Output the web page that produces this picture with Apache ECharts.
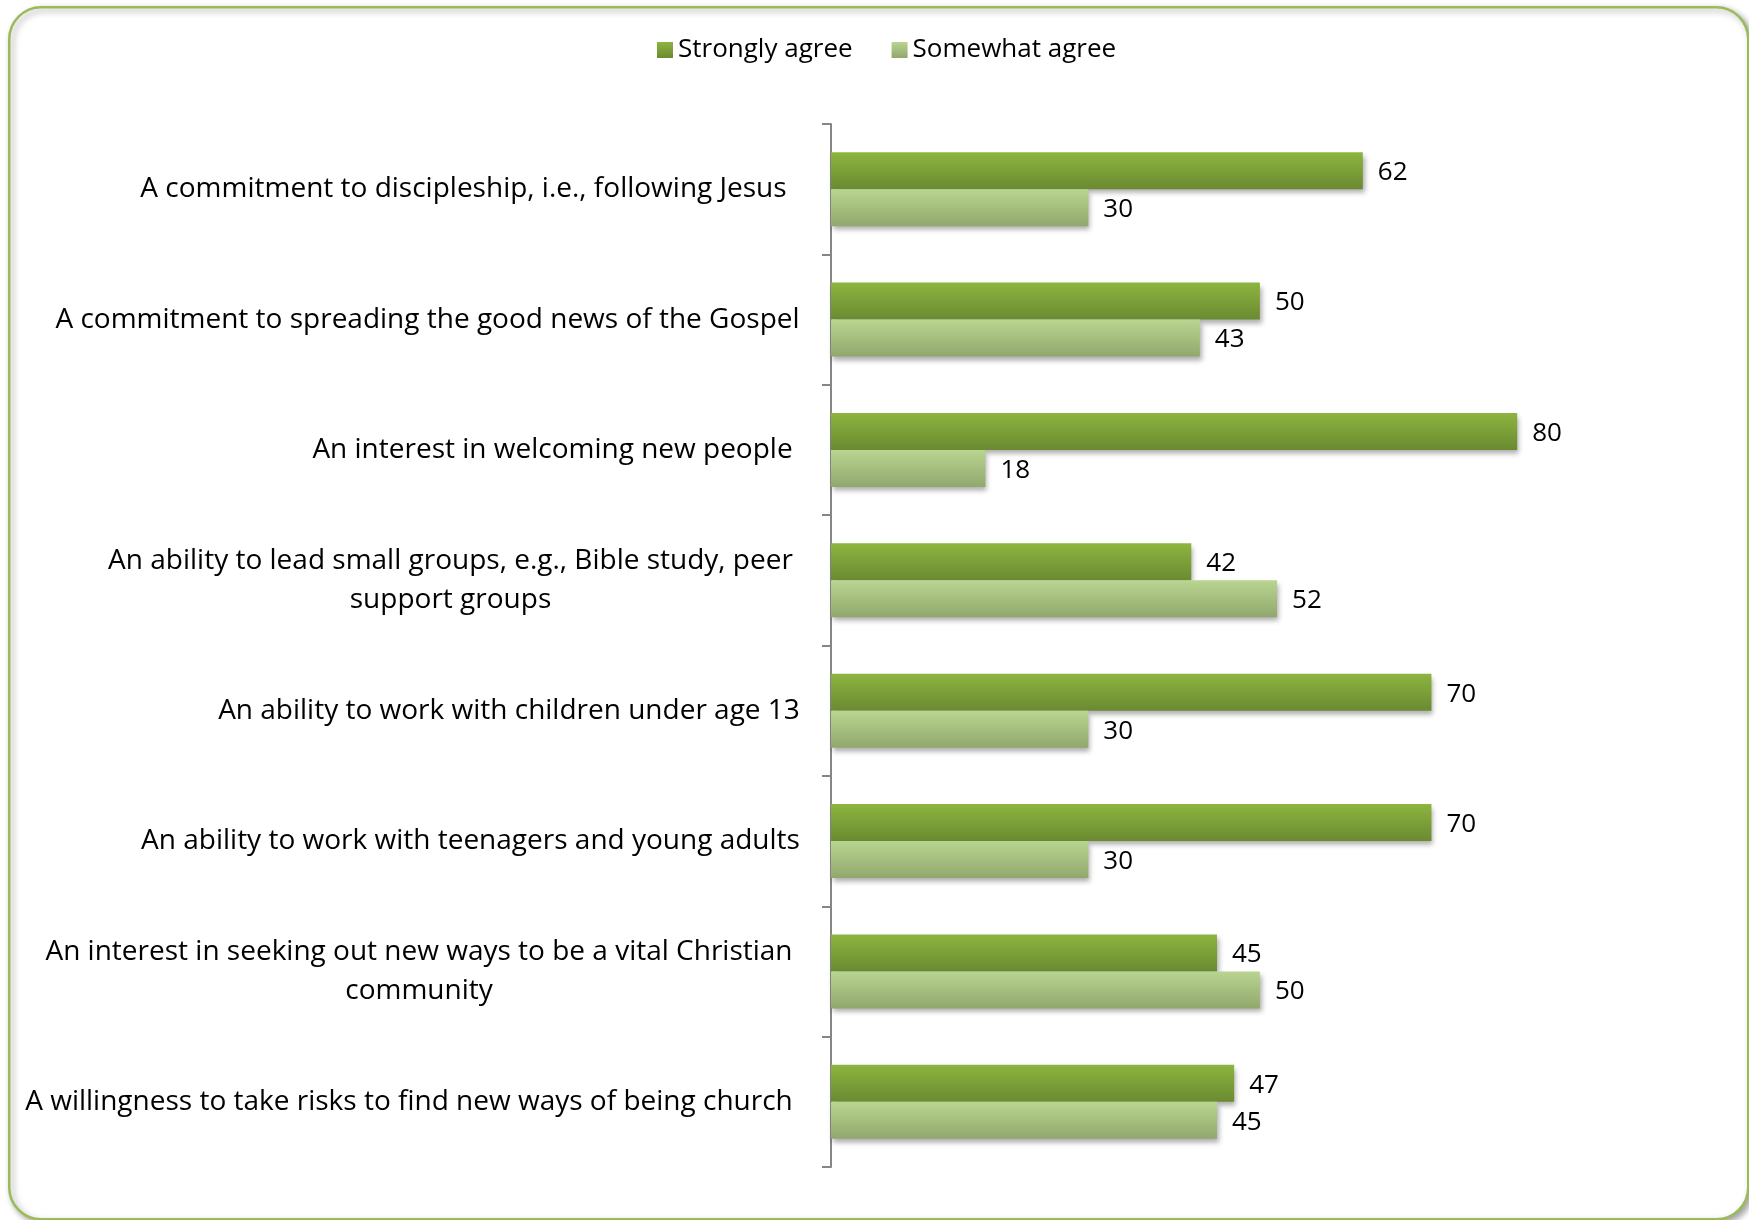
<!DOCTYPE html>
<html><head><meta charset="utf-8">
<script src="https://cdn.jsdelivr.net/npm/echarts@6/dist/echarts.min.js"></script>
<style>html,body{margin:0;padding:0;background:#fff}#c{width:1749px;height:1220px}</style>
</head><body><div id="c"></div>
<script>
var categories = [
  "A commitment to discipleship, i.e., following Jesus",
  "A commitment to spreading the good news of the Gospel",
  "An interest in welcoming new people",
  "An ability to lead small groups, e.g., Bible study, peer\nsupport groups",
  "An ability to work with children under age 13",
  "An ability to work with teenagers and young adults",
  "An interest in seeking out new ways to be a vital Christian\ncommunity",
  "A willingness to take risks to find new ways of being church"
];
var seriesNames = ["Strongly agree", "Somewhat agree"];
var strongly = [62, 50, 80, 42, 70, 70, 45, 47];
var somewhat = [30, 43, 18, 52, 30, 30, 50, 45];

var FONT = 'Open Sans';
var FS = 26;
var CFS = 28;
var labelRightPad = [13, 0, 7, 7, 0, 0, 7, 7];
var ctx = document.createElement('canvas').getContext('2d');
ctx.font = CFS + 'px "' + FONT + '"';
var rich = {};
categories.forEach(function (c, i) {
  var lines = c.split('\n');
  var w = Math.max.apply(null, lines.map(function (l) { return ctx.measureText(l).width; }));
  rich['c' + i] = { width: Math.ceil(w) + 2, align: 'center', fontFamily: FONT, fontSize: CFS, color: '#000', lineHeight: 39, padding: [0, labelRightPad[i], 0, 0] };
});

function grad(top, bottom) {
  return new echarts.graphic.LinearGradient(0, 0, 0, 1, [{ offset: 0, color: top }, { offset: 1, color: bottom }]);
}
var c1 = grad('#8db53f', '#6a8a31');
var c2 = grad('#b9d590', '#91a86d');

var chart = echarts.init(document.getElementById('c'), null, { renderer: 'canvas' });
chart.setOption({
  backgroundColor: '#fff',
  animation: false,
  graphic: [{
    type: 'rect', left: 8, top: 6, z: -1,
    shape: { width: 1739, height: 1212, r: 32 },
    style: { fill: '#fff', stroke: '#9bbb59', lineWidth: 2.5, shadowBlur: 6, shadowOffsetX: 3, shadowOffsetY: 3, shadowColor: 'rgba(0,0,0,0.35)' }
  }],
  legend: {
    top: 32, left: 652,
    itemWidth: 16, itemHeight: 16, itemGap: 39,
    icon: 'rect',
    textStyle: { fontFamily: FONT, fontSize: FS, color: '#000' },
    data: seriesNames
  },
  grid: { left: 831, right: 146, top: 124, bottom: 53 },
  xAxis: { type: 'value', min: 0, max: 90, show: false },
  yAxis: {
    type: 'category', inverse: true, data: categories,
    axisLine: { show: true, lineStyle: { color: '#868686', width: 2 } },
    axisTick: { show: true, length: 9, lineStyle: { color: '#868686', width: 2 } },
    axisLabel: {
      margin: 30,
      formatter: function (v, i) {
        return v.split('\n').map(function (l) { return '{c' + i + '|' + l + '}'; }).join('\n');
      },
      rich: rich
    }
  },
  series: [
    {
      name: seriesNames[0], type: 'bar', data: strongly, barWidth: 37, barGap: '0%',
      itemStyle: { color: c1, shadowBlur: 5, shadowOffsetX: 2, shadowOffsetY: 4, shadowColor: 'rgba(0,0,0,0.32)' },
      label: { show: true, position: 'right', distance: 15, fontFamily: FONT, fontSize: FS, color: '#000', offset: [0, 2] }
    },
    {
      name: seriesNames[1], type: 'bar', data: somewhat, barWidth: 37, barGap: '0%',
      itemStyle: { color: c2, shadowBlur: 5, shadowOffsetX: 2, shadowOffsetY: 4, shadowColor: 'rgba(0,0,0,0.32)' },
      label: { show: true, position: 'right', distance: 15, fontFamily: FONT, fontSize: FS, color: '#000', offset: [0, 2] }
    }
  ]
});
</script></body></html>
